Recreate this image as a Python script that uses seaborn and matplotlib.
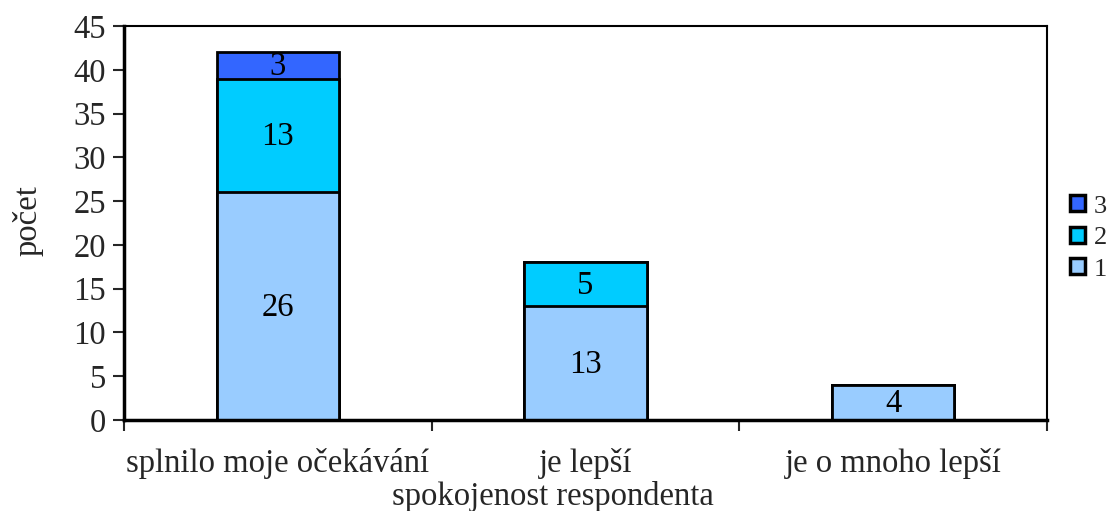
import matplotlib
matplotlib.use("Agg")
import matplotlib.pyplot as plt
import seaborn as sns
import pandas as pd
import numpy as np
from matplotlib.patches import Patch

categories = ["splnilo moje očekávání", "je lepší", "je o mnoho lepší"]
series_names = ["1", "2", "3"]
s1 = [26, 13, 4]
s2 = [13, 5, 0]
s3 = [3, 0, 0]
colors = {"1": "#99CCFF", "2": "#00CCFF", "3": "#3366FF"}

sns.set_theme(style="white")
plt.rcParams['font.family'] = ['Liberation Serif', 'DejaVu Serif']

FS = 23.5

fig = plt.figure(figsize=(11.09, 5.11), dpi=100)
ax = fig.add_axes([124/1109, 1-420/511, (1047-124)/1109, (420-26)/511])

series = [s1, s2, s3]
cum = np.cumsum(np.array(series), axis=0)  # cumulative tops
# draw from tallest cumulative (series 3) down to series 1 so overlaps stack
for i in range(2, -1, -1):
    df = pd.DataFrame({"cat": categories, "val": cum[i]})
    sns.barplot(data=df, x="cat", y="val", color=colors[series_names[i]],
                width=0.397, edgecolor="black", linewidth=2, ax=ax,
                saturation=1, errorbar=None, zorder=2)

# value labels
for j in range(len(categories)):
    bottom = 0
    for i in range(3):
        v = series[i][j]
        if v > 0:
            ax.text(j, bottom + v/2 - 0.15, str(v), ha="center", va="center",
                    fontsize=FS, color="black", zorder=5)
        bottom += v

ax.set_ylim(0, 45)
ax.set_xlim(-0.5, 2.5)
ax.set_yticks(range(0, 46, 5))
ax.set_xticks([-0.5, 0.5, 1.5, 2.5], minor=False)
ax.set_xticklabels([])
ax.set_xticks([0, 1, 2], minor=True)
ax.set_xticklabels(categories, minor=True)
ax.tick_params(axis="x", which="minor", length=0, labelsize=FS, pad=20)
ax.tick_params(axis="x", which="major", length=8, width=1.5, direction="out", bottom=True)
ax.tick_params(axis="y", length=8, width=1.5, direction="out", left=True, labelsize=FS, pad=5)
for sp in ax.spines.values():
    sp.set_visible(True)
    sp.set_color("black")
    sp.set_linewidth(1.5)
ax.spines["left"].set_linewidth(2.5)
ax.spines["bottom"].set_linewidth(2.5)

ax.set_xlabel("spokojenost respondenta", fontsize=FS)
ax.xaxis.set_label_coords(0.465, -0.155)
ax.set_ylabel("počet", fontsize=FS)
ax.yaxis.set_label_coords(-0.087, 0.505)

handles = [Patch(facecolor=colors[n], edgecolor="black", linewidth=2.5, label=n)
           for n in ["3", "2", "1"]]
fig.legend(handles=handles, loc="center left", bbox_to_anchor=(1070/1109, 1-238/511),
           frameon=False, fontsize=19, handlelength=0.55, handleheight=0.55,
           handletextpad=0.35, labelspacing=0.35, borderpad=0, borderaxespad=0)

fig.savefig("out.png", dpi=100, facecolor="white")
